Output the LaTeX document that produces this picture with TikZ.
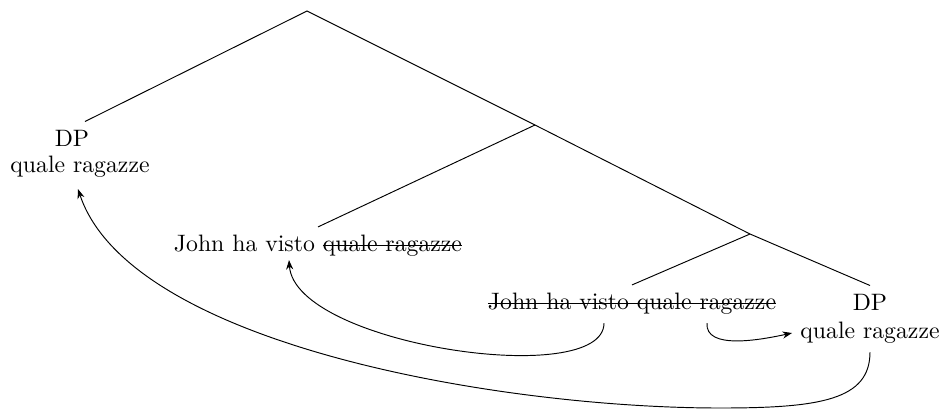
\documentclass[tikz,border=0pt]{standalone}
\usepackage{tikz}
\usetikzlibrary{calc,arrows.meta}
\newsavebox\strkbox
\newcommand\strk[1]{\sbox\strkbox{#1}\rlap{\rule[0.55ex]{\wd\strkbox}{0.5pt}}\usebox\strkbox}

\begin{document}
\begin{tikzpicture}[x=0.0148cm,y=-0.0148cm,
  mv/.style={-{Stealth[length=4pt,width=3pt]}}]
\useasboundingbox (0,0) rectangle (943,410);
\coordinate (root) at (307,11);
\coordinate (n1) at (535,125);
\coordinate (n2) at (750,234);

\node (dpL) at (72,138) {DP};
\node (qrL) at (80,167) {quale ragazze};
\node (a) at (318,246) {John ha visto \strk{quale ragazze}};
\node (b) at (632,304) {\strk{John ha visto quale ragazze}};
\node (dpR) at (870,302) {DP};
\node (qrR) at (870,333) {quale ragazze};

\draw ($(dpL.north)+(13,0)$) -- (root) -- (n1) -- (n2) -- (dpR.north);
\draw (n1) -- (a.north);
\draw (n2) -- (b.north);

% movement arrows
\draw[mv] ($(b.south)+(-28,0)$) .. controls (604,390) and (295,345) .. ($(a.south)+(-29,-5)$);
\draw[mv] ($(b.south)+(75,0)$) .. controls (705,350) and (760,340) .. (qrR.west);
\draw[mv] (qrR.south) .. controls (870,400) and (820,408) .. (720,408)
  .. controls (500,408) and (130,345) .. ($(qrL.south)+(-2,3)$);
\end{tikzpicture}
\end{document}
